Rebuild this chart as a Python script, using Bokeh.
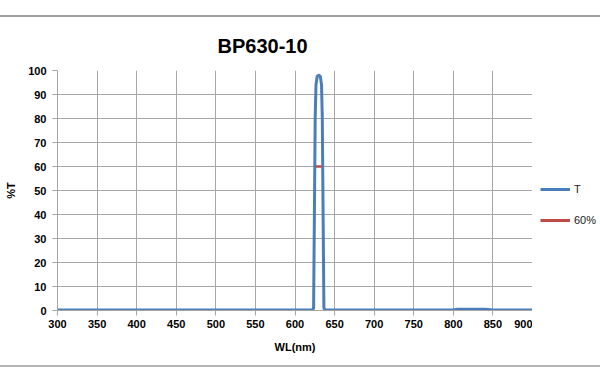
from bokeh.plotting import figure
from bokeh.layouts import row
from bokeh.models import Range1d, Legend, LegendItem, FixedTicker
from bokeh.embed import file_html
from bokeh.resources import INLINE

title_text = "BP630-10"
x_label = "WL(nm)"
y_label = "%T"
series_names = ["T", "60%"]

wl = [300, 350, 400, 450, 500, 550, 600, 615, 620, 622, 623.5, 624.5, 625.5, 626.5, 628,
      630, 632, 633.5, 634.5, 635.5, 636.5, 638, 640, 650, 700, 750, 800, 805, 820, 840,
      848, 860, 900]
T = [0.2, 0.2, 0.2, 0.2, 0.2, 0.2, 0.2, 0.2, 0.2, 0.3, 1.0, 40, 80, 94, 97.5,
     98, 97.5, 94, 80, 40, 1.0, 0.3, 0.2, 0.2, 0.2, 0.2, 0.2, 0.5, 0.55, 0.5,
     0.3, 0.2, 0.2]

mark_wl = [626.3, 633.7]
mark_T = [60, 60]

x_ticks = list(range(300, 901, 50))
y_ticks = list(range(0, 101, 10))

BLUE = "#4a7ebb"
RED = "#be4b48"
GRID = "#a6a6a6"
FONT = "Liberation Sans"
BG = {"background": "linear-gradient(to bottom, white 0px, white 15px, #a0a0a0 15px, "
                    "#a0a0a0 17px, white 17px, white 365px, #b4b4b4 365px, #b4b4b4 367px, "
                    "white 367px, white 100%)"}

p = figure(width=532, height=383, output_backend="svg", toolbar_location=None,
           x_range=Range1d(300, 900), y_range=Range1d(0, 100),
           min_border_left=57, min_border_right=0, min_border_top=70, min_border_bottom=73)
p.outline_line_color = None
p.background_fill_color = "white"
p.border_fill_color = None
p.styles = BG

p.title.text = title_text
p.title.text_font = FONT
p.title.text_font_style = "bold"
p.title.text_font_size = "20px"
p.title.text_color = "black"
p.title.align = "left"
p.title.offset = 160
p.title.standoff = 27

for ax, ticks in ((p.xaxis, x_ticks), (p.yaxis, y_ticks)):
    ax.ticker = FixedTicker(ticks=ticks)
    ax.axis_line_color = GRID
    ax.major_tick_line_color = GRID
    ax.major_tick_out = 5
    ax.major_tick_in = 0
    ax.minor_tick_line_color = None
    ax.major_label_text_font = FONT
    ax.major_label_text_font_style = "bold"
    ax.major_label_text_font_size = "11px"
    ax.major_label_text_color = "black"
    ax.axis_label_text_font = FONT
    ax.axis_label_text_font_style = "bold"
    ax.axis_label_text_font_size = "11px"
    ax.axis_label_text_color = "black"
p.xaxis.major_label_standoff = 4
p.yaxis.major_label_standoff = 6
p.xaxis.axis_label = x_label
p.yaxis.axis_label = y_label
p.xaxis.axis_label_standoff = 10
p.yaxis.axis_label_standoff = 8

p.xgrid.ticker = FixedTicker(ticks=x_ticks)
p.ygrid.ticker = FixedTicker(ticks=y_ticks)
for g in (p.xgrid, p.ygrid):
    g.grid_line_color = GRID
    g.grid_line_width = 1

p.line(wl, T, line_color=BLUE, line_width=3, line_join="round")
p.line(mark_wl, mark_T, line_color=RED, line_width=2.5)

# legend panel (legend samples only; their data lies outside the visible range)
q = figure(width=68, height=383, output_backend="svg", toolbar_location=None,
           x_range=Range1d(0, 1), y_range=Range1d(0, 1),
           x_axis_location=None, y_axis_location=None,
           min_border_left=0, min_border_right=0, min_border_top=0, min_border_bottom=0)
q.outline_line_color = None
q.background_fill_color = None
q.border_fill_color = None
q.xgrid.visible = False
q.ygrid.visible = False
q.styles = BG
lt = q.line([-2, -1], [-2, -1], line_color=BLUE, line_width=3)
lm = q.line([-2, -1], [-2, -1], line_color=RED, line_width=3)

legend = Legend(items=[LegendItem(label=series_names[0], renderers=[lt]),
                       LegendItem(label=series_names[1], renderers=[lm])],
                location=(8, 80), padding=0, margin=0, spacing=11,
                glyph_width=30, glyph_height=20, label_standoff=4,
                label_text_font=FONT, label_text_font_size="11px",
                label_text_color="#202020",
                border_line_color=None, background_fill_alpha=0)
q.add_layout(legend, "center")

layout = row(p, q, spacing=0)
open("out.html", "w").write(file_html(layout, INLINE))
